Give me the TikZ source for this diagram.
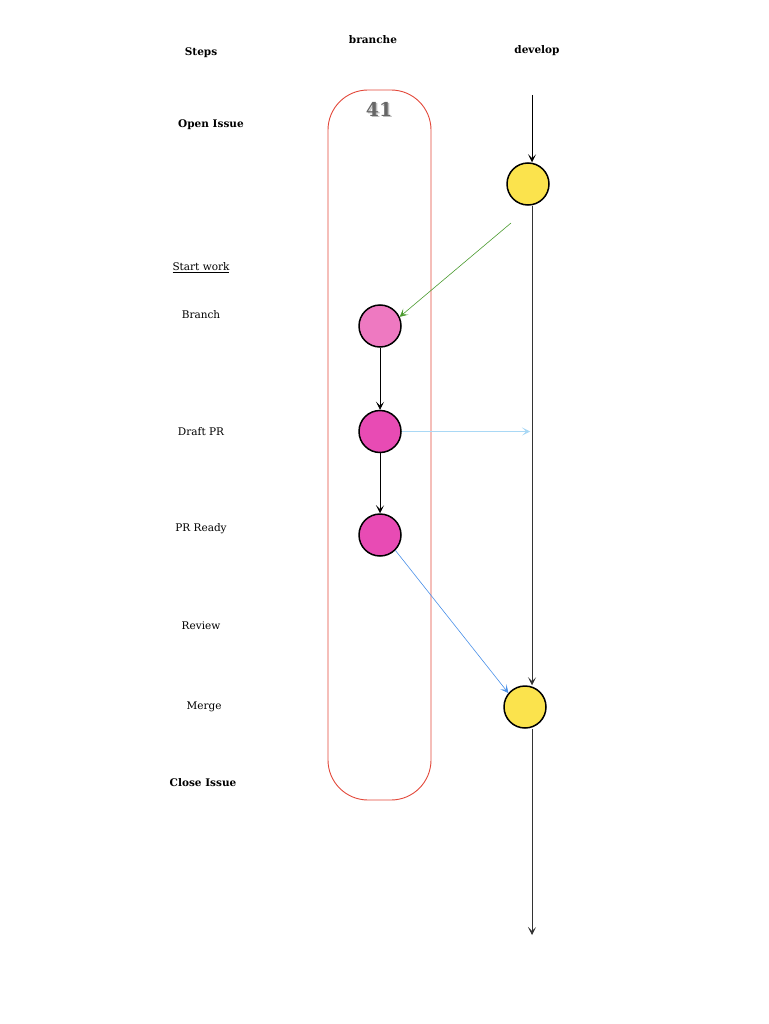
\documentclass[tikz,border=0pt]{standalone}
\usepackage{fontspec}
\setmainfont{DejaVu Serif}
\usepackage{tikz}
\usetikzlibrary{arrows, arrows.meta, shapes, positioning, calc}
\usepackage{xcolor}

\definecolor{commit}{HTML}{FBE34D}
\definecolor{pinklight}{HTML}{EE79C1}
\definecolor{pinkdark}{HTML}{E84BB4}
\definecolor{boxred}{HTML}{E2483A}
\definecolor{greenarr}{HTML}{4A9A2E}
\definecolor{bluearr}{HTML}{4A90E8}
\definecolor{skyarr}{HTML}{A9D8F5}

\tikzset{
  steptxt/.style={font=\fontsize{10.5}{12}\selectfont},
  head/.style={font=\fontsize{10.5}{12}\selectfont\bfseries},
  devcommit/.style={circle, draw=black, line width=1.5pt, fill=commit, minimum size=42pt, inner sep=0pt},
  brcommit/.style={circle, draw=black, line width=1.5pt, fill=pinkdark, minimum size=42pt, inner sep=0pt},
  link/.style={-{Stealth[length=8pt, width=8pt, inset=4pt]}, semithick}
}

\begin{document}
\begin{tikzpicture}[x=1pt, y=-1pt]
\useasboundingbox (0,0) rectangle (768,1024);

% column heads
\node[head] (steps) at (201,53) {Steps};
\node[head] (branche) at (373,40) {branche};
\node[head] (develop) at (537,51) {develop};

% steps
\node[head] (open) at (211,125) {Open Issue};
\node[steptxt] (start) at (201,268) {\underline{Start work}};
\node[steptxt] (branch) at (201,315) {Branch};
\node[steptxt] (draft) at (201,432) {Draft PR};
\node[steptxt] (ready) at (201,529) {PR Ready};
\node[steptxt] (review) at (201,626) {Review};
\node[steptxt] (merge) at (204,707) {Merge};
\node[head] (close) at (203,783) {Close Issue};

% issue box
\draw[boxred, line width=0.9pt, rounded corners=40pt] (328,90) rectangle (431,800);
\node[font=\fontsize{19}{22}\selectfont\bfseries, text=black!25] at (380.5,110.5) {41};
\node[font=\fontsize{19}{22}\selectfont\bfseries, text=black!60] (issue) at (379,109) {41};

% develop line
\node[devcommit] (d1) at (528,184) {};
\node[devcommit] (d2) at (525,707) {};
\coordinate (devtop) at (532,95);
\coordinate (devend) at (532,935);

% branch commits
\node[brcommit, fill=pinklight] (b1) at (380,326) {};
\node[brcommit, below=62pt of b1] (b2) {};
\node[brcommit, below=60pt of b2] (b3) {};
\coordinate (devdraft) at ($(b2.east -| devtop)+(-2,0)$);

\draw[link] (devtop) -- (d1.north -| devtop);
\draw[link, black!80] (d1.south -| devtop) -- (d2.north -| devtop);
\draw[link, black!80] (d2.south -| devend) -- (devend);

\draw[link] (b1) -- (b2);
\draw[link] (b2) -- (b3);

\draw[link, greenarr] ($(d1)+(-17,39)$) -- (b1.25);
\draw[link, skyarr] (b2.east) -- (devdraft);
\draw[link, bluearr] (b3.south east) -- (d2.140);
\end{tikzpicture}
\end{document}
